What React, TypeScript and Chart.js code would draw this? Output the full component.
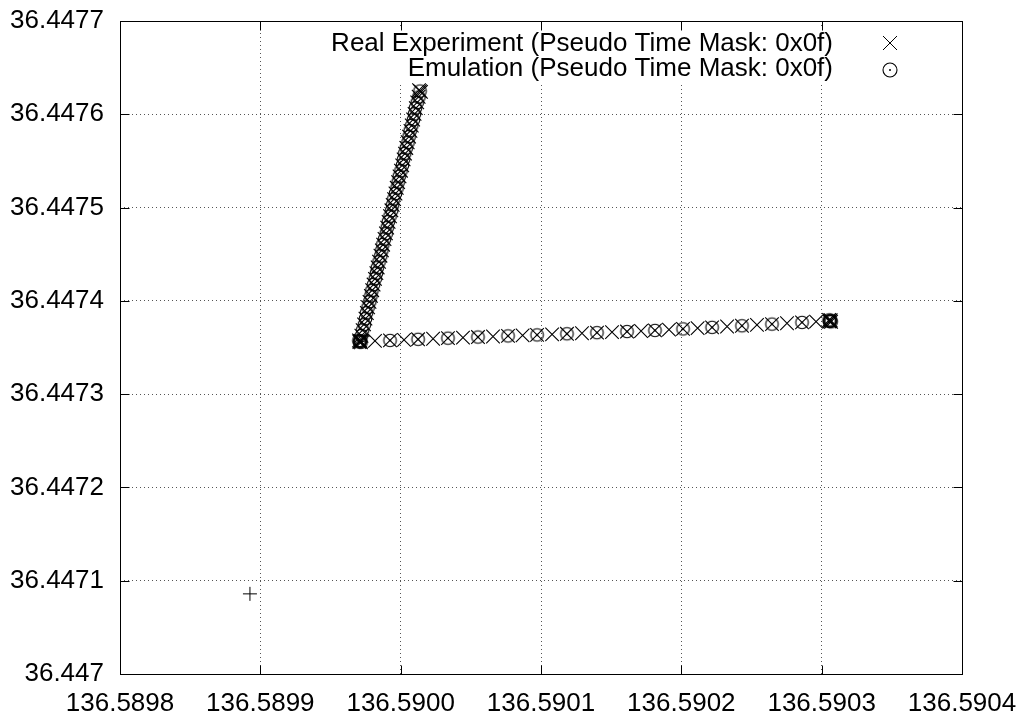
import React, { useEffect, useRef } from "react";
import { Chart, registerables } from "chart.js";

Chart.register(...registerables);

const xTickValues = [136.5898, 136.5899, 136.59, 136.5901, 136.5902, 136.5903, 136.5904];
const yTickValues = [36.447, 36.4471, 36.4472, 36.4473, 36.4474, 36.4475, 36.4476, 36.4477];

const legendLabels = [
  "Real Experiment (Pseudo Time Mask: 0x0f)",
  "Emulation (Pseudo Time Mask: 0x0f)",
];

// Real experiment: horizontal leg, diagonal leg, clustered end fixes
const realLon = [
  136.589971, 136.5899817, 136.5899924, 136.5900024, 136.5900124, 136.5900231, 136.5900337, 136.5900444,
  136.5900551, 136.5900658, 136.5900765, 136.5900869, 136.5900972, 136.5901079, 136.5901185, 136.5901292,
  136.5901399, 136.5901506, 136.5901613, 136.5901713, 136.5901812, 136.5901912, 136.5902012, 136.5902116,
  136.5902219, 136.5902326, 136.5902432, 136.5902539, 136.5902646, 136.5902753, 136.590286, 136.590296,
  136.590306,
  136.589972, 136.5899729, 136.5899739, 136.5899749, 136.5899759, 136.5899768, 136.5899778, 136.5899788,
  136.5899797, 136.5899807, 136.5899817, 136.5899827, 136.5899836, 136.5899846, 136.5899856, 136.5899866,
  136.5899875, 136.5899885, 136.5899895, 136.5899904, 136.5899914, 136.5899924, 136.5899934, 136.5899943,
  136.5899953, 136.5899963, 136.5899972, 136.5899982, 136.5899992, 136.5900002, 136.5900011, 136.5900021,
  136.5900031, 136.590004, 136.590005, 136.590006, 136.590007, 136.5900079, 136.5900089, 136.5900099,
  136.5900108, 136.5900118, 136.5900128, 136.5900138,
  136.5899703, 136.5899717, 136.5899706, 136.5899714,
  136.5903053, 136.5903067, 136.5903056, 136.5903064,
  136.5900131, 136.5900145,
];
const realLat = [
  36.4473565, 36.4473571, 36.4473576, 36.4473582, 36.4473588, 36.4473594, 36.44736, 36.4473606,
  36.4473612, 36.4473618, 36.4473624, 36.447363, 36.4473635, 36.4473641, 36.4473647, 36.4473653,
  36.4473659, 36.4473665, 36.4473671, 36.4473677, 36.4473683, 36.4473691, 36.4473699, 36.4473708,
  36.4473716, 36.4473725, 36.4473733, 36.4473742, 36.4473751, 36.447376, 36.4473769, 36.4473777,
  36.4473785,
  36.4473626, 36.4473687, 36.4473748, 36.4473809, 36.447387, 36.4473931, 36.4473989, 36.4474053,
  36.4474114, 36.4474175, 36.4474236, 36.4474297, 36.4474358, 36.4474419, 36.4474484, 36.4474541,
  36.4474602, 36.4474663, 36.4474724, 36.4474785, 36.4474846, 36.4474907, 36.4474971, 36.4475029,
  36.447509, 36.4475151, 36.4475212, 36.4475273, 36.4475334, 36.4475395, 36.4475452, 36.4475517,
  36.4475578, 36.4475639, 36.44757, 36.4475761, 36.4475822, 36.447588, 36.4475944, 36.4476005,
  36.4476066, 36.4476127, 36.4476188, 36.4476249,
  36.4473575, 36.4473556, 36.4473559, 36.4473572,
  36.4473795, 36.4473776, 36.4473779, 36.4473792,
  36.4476259, 36.447624,
];

// Emulation: every other fix on the straight leg, every fix on the slow diagonal leg
const emuLon = [
  136.589971, 136.5899924, 136.5900124, 136.5900337, 136.5900551, 136.5900765, 136.5900972, 136.5901185,
  136.5901399, 136.5901613, 136.5901812, 136.5902012, 136.5902219, 136.5902432, 136.5902646, 136.590286,
  136.590306,
  136.5899722, 136.5899729, 136.5899741, 136.5899749, 136.5899757, 136.5899768, 136.589978, 136.5899788,
  136.5899795, 136.5899807, 136.5899819, 136.5899827, 136.5899834, 136.5899846, 136.5899858, 136.5899866,
  136.5899873, 136.5899885, 136.5899897, 136.5899904, 136.5899912, 136.5899924, 136.5899936, 136.5899943,
  136.5899951, 136.5899963, 136.5899974, 136.5899982, 136.589999, 136.5900002, 136.5900013, 136.5900021,
  136.5900029, 136.590004, 136.5900052, 136.590006, 136.5900068, 136.5900079, 136.5900091, 136.5900099,
  136.5900106, 136.5900118, 136.590013, 136.5900138,
  136.5899703, 136.5899717, 136.5899706, 136.5899714,
  136.5903053, 136.5903067, 136.5903056, 136.5903064,
];
const emuLat = [
  36.4473565, 36.4473576, 36.4473588, 36.44736, 36.4473612, 36.4473624, 36.4473635, 36.4473647,
  36.4473659, 36.4473671, 36.4473683, 36.4473699, 36.4473716, 36.4473733, 36.4473751, 36.4473769,
  36.4473785,
  36.4473629, 36.4473687, 36.4473745, 36.4473809, 36.4473873, 36.4473931, 36.4473992, 36.4474053,
  36.4474111, 36.4474175, 36.4474239, 36.4474297, 36.4474355, 36.4474419, 36.4474481, 36.4474541,
  36.4474605, 36.4474663, 36.4474721, 36.4474785, 36.4474849, 36.4474907, 36.4474968, 36.4475029,
  36.4475093, 36.4475151, 36.4475209, 36.4475273, 36.4475337, 36.4475395, 36.4475455, 36.4475517,
  36.4475581, 36.4475639, 36.4475697, 36.4475761, 36.4475825, 36.447588, 36.4475941, 36.4476005,
  36.4476069, 36.4476127, 36.4476185, 36.4476249,
  36.4473575, 36.4473556, 36.4473559, 36.4473572,
  36.4473795, 36.4473776, 36.4473779, 36.4473792,
];

// Reference point (plus sign, no key entry)
const refLon = [136.5898926];
const refLat = [36.4470859];

const FONT = '"Liberation Sans", Arial, sans-serif';
const FONT_SIZE = 26;

function makeCircleDot(r: number): HTMLCanvasElement {
  const c = document.createElement("canvas");
  const s = Math.ceil(r * 2 + 4);
  c.width = s;
  c.height = s;
  const g = c.getContext("2d")!;
  g.strokeStyle = "#000";
  g.lineWidth = 1.1;
  g.beginPath();
  g.arc(s / 2, s / 2, r, 0, Math.PI * 2);
  g.stroke();
  g.fillStyle = "#000";
  g.beginPath();
  g.arc(s / 2, s / 2, 1, 0, Math.PI * 2);
  g.fill();
  return c;
}

export default function App() {
  const ref = useRef<HTMLCanvasElement | null>(null);

  useEffect(() => {
    document.body.style.margin = "0";
    const canvas = ref.current!;
    const circleImg = makeCircleDot(6.3);
    const legendCircle = makeCircleDot(7);

    const zip = (xs: number[], ys: number[]) => xs.map((x, i) => ({ x, y: ys[i] }));

    const frame = {
      id: "gnuplotFrame",
      beforeDatasetsDraw(chart: any) {
        const ctx = chart.ctx as CanvasRenderingContext2D;
        const a = chart.chartArea;
        ctx.save();
        ctx.fillStyle = "#fff";
        ctx.fillRect(315, a.top + 7, a.right - 315 - 2, 56);
        ctx.fillStyle = "#000";
        ctx.font = `${FONT_SIZE}px ${FONT}`;
        ctx.textAlign = "right";
        ctx.textBaseline = "alphabetic";
        ctx.fillText(legendLabels[0], 833, 51);
        ctx.fillText(legendLabels[1], 833, 75.5);
        ctx.strokeStyle = "#000";
        ctx.lineWidth = 1;
        ctx.beginPath();
        ctx.moveTo(883, 36);
        ctx.lineTo(897, 50);
        ctx.moveTo(897, 36);
        ctx.lineTo(883, 50);
        ctx.stroke();
        ctx.drawImage(legendCircle, 890 - legendCircle.width / 2, 70 - legendCircle.height / 2);
        ctx.restore();
      },
      afterDraw(chart: any) {
        const ctx = chart.ctx as CanvasRenderingContext2D;
        const a = chart.chartArea;
        const xs = chart.scales.x;
        const ys = chart.scales.y;
        ctx.save();
        ctx.strokeStyle = "#000";
        ctx.lineWidth = 1;
        const L = Math.round(a.left) + 0.5;
        const R = Math.round(a.right) + 0.5;
        const T = Math.round(a.top) + 0.5;
        const B = Math.round(a.bottom) + 0.5;
        ctx.beginPath();
        for (const v of xTickValues) {
          const px = Math.round(xs.getPixelForValue(v)) + 0.5;
          ctx.moveTo(px, B);
          ctx.lineTo(px, B - 9);
          ctx.moveTo(px, T);
          ctx.lineTo(px, T + 9);
        }
        for (const v of yTickValues) {
          const py = Math.round(ys.getPixelForValue(v)) + 0.5;
          ctx.moveTo(L, py);
          ctx.lineTo(L + 9, py);
          ctx.moveTo(R, py);
          ctx.lineTo(R - 9, py);
        }
        ctx.stroke();
        ctx.strokeRect(L, T, R - L, B - T);
        ctx.restore();
      },
    };

    const chart = new Chart(canvas, {
      type: "scatter",
      data: {
        datasets: [
          {
            label: legendLabels[0],
            data: zip(realLon, realLat),
            pointStyle: "crossRot",
            pointRadius: 9.6,
            pointBorderWidth: 1.1,
            borderColor: "#000",
            pointBorderColor: "#000",
            backgroundColor: "transparent",
            showLine: false,
          },
          {
            label: legendLabels[1],
            data: zip(emuLon, emuLat),
            pointStyle: circleImg as any,
            pointRadius: 7,
            borderColor: "#000",
            backgroundColor: "transparent",
            showLine: false,
          },
          {
            label: "",
            data: zip(refLon, refLat),
            pointStyle: "cross",
            pointRadius: 7,
            pointBorderWidth: 1,
            borderColor: "#000",
            pointBorderColor: "#000",
            backgroundColor: "transparent",
            showLine: false,
          },
        ],
      },
      options: {
        animation: false,
        responsive: false,
        maintainAspectRatio: false,
        devicePixelRatio: 1,
        layout: { padding: { left: 0, right: 58, top: 21, bottom: 0 } },
        plugins: {
          legend: { display: false },
          tooltip: { enabled: false },
        },
        scales: {
          x: {
            type: "linear",
            min: xTickValues[0],
            max: xTickValues[xTickValues.length - 1],
            afterBuildTicks: (s: any) => {
              s.ticks = xTickValues.map((v) => ({ value: v }));
            },
            afterFit: (s: any) => {
              s.height = 41;
              s.paddingLeft = 0;
              s.paddingRight = 0;
              s.paddingTop = 0;
              s.paddingBottom = 0;
            },
            grid: {
              color: "#555",
              lineWidth: 1,
              drawTicks: false,
            },
            border: { display: false, dash: [1, 3] },
            ticks: {
              color: "#000",
              font: { family: FONT, size: FONT_SIZE },
              padding: 14,
              maxRotation: 0,
              autoSkip: false,
              callback: (v: any) => Number(v).toFixed(4),
            },
          },
          y: {
            type: "linear",
            min: yTickValues[0],
            max: yTickValues[yTickValues.length - 1],
            afterBuildTicks: (s: any) => {
              s.ticks = yTickValues.map((v) => ({ value: v }));
            },
            afterFit: (s: any) => {
              s.width = 120;
              s.paddingLeft = 0;
              s.paddingRight = 0;
              s.paddingTop = 0;
              s.paddingBottom = 0;
            },
            grid: {
              color: "#555",
              lineWidth: 1,
              drawTicks: false,
            },
            border: { display: false, dash: [1, 3] },
            ticks: {
              color: "#000",
              font: { family: FONT, size: FONT_SIZE },
              padding: 16,
              autoSkip: false,
              callback: (v: any) => String(Number(Number(v).toFixed(4))),
            },
          },
        },
      },
      plugins: [frame],
    });

    return () => chart.destroy();
  }, []);

  return (
    <canvas
      ref={ref}
      width={1020}
      height={715}
      style={{ display: "block", width: 1020, height: 715 }}
    />
  );
}
